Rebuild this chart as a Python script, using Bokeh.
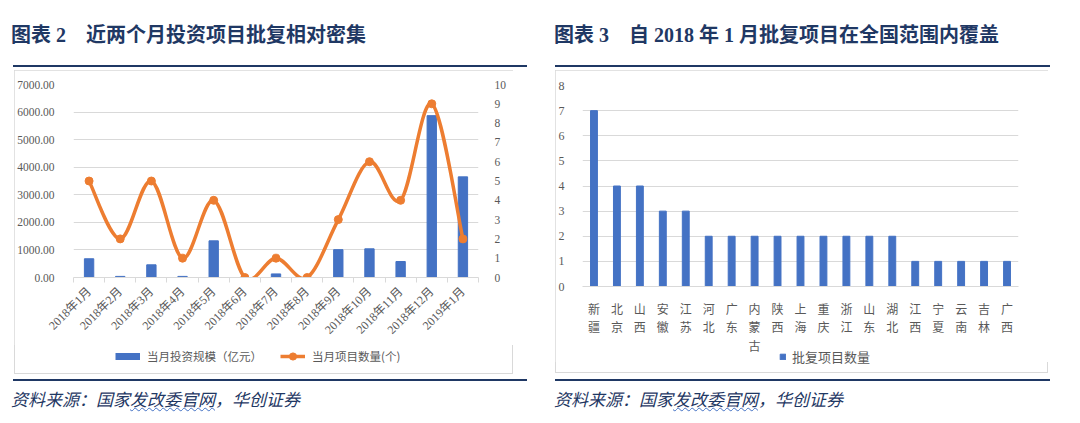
import math
from bokeh.plotting import figure
from bokeh.models import (Range1d, LinearAxis, FixedTicker, PrintfTickFormatter,
                          Legend, LegendItem, Div, FactorRange)
from bokeh.layouts import row, column
from bokeh.embed import file_html
from bokeh.resources import INLINE

# ---------------- data ----------------
months = ["2018年1月", "2018年2月", "2018年3月", "2018年4月", "2018年5月", "2018年6月",
          "2018年7月", "2018年8月", "2018年9月", "2018年10月", "2018年11月", "2018年12月",
          "2019年1月"]
invest = [680, 40, 460, 40, 1330, 0, 130, 0, 1010, 1040, 580, 5870, 3650]
counts = [5, 2, 5, 1, 4, 0, 1, 0, 3, 6, 4, 9, 2]
invest_ticks = [0, 1000, 2000, 3000, 4000, 5000, 6000, 7000]
count_ticks = [0, 1, 2, 3, 4, 5, 6, 7, 8, 9, 10]

provinces = ["新疆", "北京", "山西", "安徽", "江苏", "河北", "广东", "内蒙古", "陕西", "上海",
             "重庆", "浙江", "山东", "湖北", "江西", "宁夏", "云南", "吉林", "广西"]
approved = [7, 4, 4, 3, 3, 2, 2, 2, 2, 2, 2, 2, 2, 2, 1, 1, 1, 1, 1]
approved_ticks = [0, 1, 2, 3, 4, 5, 6, 7, 8]

title_left = "图表 2　近两个月投资项目批复相对密集"
title_right = "图表 3　自 2018 年 1 月批复项目在全国范围内覆盖"
legend_bar = "当月投资规模（亿元）"
legend_line = "当月项目数量(个)"
legend_right = "批复项目数量"

# ---------------- style ----------------
NAVY = "#1F3864"
BLUE = "#4472C4"
ORANGE = "#ED7D31"
GRID = "#D9D9D9"
TXT = "#595959"
SERIF = "Liberation Serif, Noto Sans CJK SC"
CJK = "Noto Sans CJK SC"
BOX = {"outline": f"1px solid {GRID}", "outline-offset": "-1px"}


def title_div(text, width, ml):
    html = (f'<div style="font-family:\'Liberation Serif\',\'Noto Sans CJK SC\';font-weight:bold;'
            f'font-size:20px;color:{NAVY};line-height:26px;padding-top:22px;white-space:nowrap">{text}</div>')
    return Div(text=html, width=width, height=65, margin=(0, 0, 0, ml))


def rule_div(width, ml, mt):
    return Div(text="", width=width, height=2, margin=(mt, 0, 0, ml),
               styles={"background-color": NAVY})


def source_div(width, ml):
    html = (f'<div style="font-family:\'Noto Sans CJK SC\';font-style:italic;font-size:17px;'
            f'color:{NAVY};line-height:22px;padding-top:7px;white-space:nowrap">资料来源：国家'
            f'<span style="text-decoration-line:underline;text-decoration-style:wavy;'
            f'text-decoration-color:{BLUE};text-decoration-thickness:1px">发改委官网</span>，华创证券</div>')
    return Div(text=html, width=width, height=30, margin=(0, 0, 0, ml))


def legend_fig(width, height, margin=(0, 0, 0, 0)):
    f = figure(width=width, height=height, x_range=Range1d(0, 1), y_range=Range1d(0, 1),
               x_axis_type=None, y_axis_type=None, output_backend="svg",
               toolbar_location=None, title=None, min_border=0, margin=margin)
    f.outline_line_color = None
    f.background_fill_alpha = 0
    f.border_fill_alpha = 0
    return f


# ---------------- left chart ----------------
n = len(months)
xs = list(range(n))
p1 = figure(width=499, height=275, x_range=Range1d(-0.5, n - 0.5), y_range=Range1d(0, 7000),
            output_backend="svg", toolbar_location=None, title=None,
            min_border_left=58, min_border_right=35, min_border_top=14, min_border_bottom=68)
p1.outline_line_color = None
p1.extra_y_ranges = {"cnt": Range1d(0, 10)}

bars = p1.vbar(x=xs, top=invest, width=0.3, color=BLUE)

# smooth line (Catmull-Rom as cubic Bezier segments, like Excel's smoothed line)
bx0, by0, bx1, by1, cx0, cy0, cx1, cy1 = [], [], [], [], [], [], [], []
for i in range(n - 1):
    a = i - 1 if i > 0 else i
    d = i + 2 if i + 2 < n else i + 1
    bx0.append(xs[i]); by0.append(counts[i])
    bx1.append(xs[i + 1]); by1.append(counts[i + 1])
    cx0.append(xs[i] + (xs[i + 1] - xs[a]) / 6); cy0.append(counts[i] + (counts[i + 1] - counts[a]) / 6)
    cx1.append(xs[i + 1] - (xs[d] - xs[i]) / 6); cy1.append(counts[i + 1] - (counts[d] - counts[i]) / 6)
curve = p1.bezier(x0=bx0, y0=by0, x1=bx1, y1=by1, cx0=cx0, cy0=cy0, cx1=cx1, cy1=cy1,
                  line_color=ORANGE, line_width=3.5, y_range_name="cnt")
dots = p1.scatter(x=xs, y=counts, size=8, fill_color=ORANGE, line_color=ORANGE, y_range_name="cnt")

p1.xgrid.visible = False
p1.ygrid.grid_line_color = GRID
p1.ygrid.ticker = FixedTicker(ticks=invest_ticks)

ya = p1.yaxis[0]
ya.ticker = FixedTicker(ticks=invest_ticks)
ya.formatter = PrintfTickFormatter(format="%.2f")
ya.axis_line_color = None
ya.major_tick_line_color = None
ya.minor_tick_line_color = None
ya.major_label_standoff = 13
ya.major_label_text_font = SERIF
ya.major_label_text_font_size = "11.5px"
ya.major_label_text_color = TXT

ra = LinearAxis(y_range_name="cnt", ticker=FixedTicker(ticks=count_ticks))
ra.axis_line_color = None
ra.major_tick_line_color = None
ra.minor_tick_line_color = None
ra.major_label_standoff = 10
ra.major_label_text_font = SERIF
ra.major_label_text_font_size = "11.5px"
ra.major_label_text_color = TXT
p1.add_layout(ra, "right")

xa = p1.xaxis[0]
xa.ticker = FixedTicker(ticks=xs, minor_ticks=[i - 0.5 for i in range(n + 1)])
xa.major_label_overrides = {i: m for i, m in enumerate(months)}
xa.axis_line_color = GRID
xa.major_tick_line_color = None
xa.minor_tick_line_color = GRID
xa.minor_tick_out = 5
xa.minor_tick_in = 0
xa.major_label_orientation = math.pi / 4
xa.major_label_standoff = 6
xa.major_label_text_font = SERIF
xa.major_label_text_font_size = "12px"
xa.major_label_text_color = TXT

# legend strip below the left chart
l1 = legend_fig(499, 29)
sw_bar = l1.line(x=xs, y=invest, line_width=7, line_color=BLUE, visible=False)
sw_line = l1.line(x=xs, y=counts, line_width=3.5, line_color=ORANGE, visible=False)
sw_dot = l1.scatter(x=xs, y=counts, size=8, fill_color=ORANGE, line_color=ORANGE, visible=False)
leg1 = Legend(items=[LegendItem(label=legend_bar, renderers=[sw_bar]),
                     LegendItem(label=legend_line, renderers=[sw_line, sw_dot])],
              location=(42, 9), orientation="horizontal", padding=0, margin=0,
              border_line_color=None, background_fill_alpha=0, label_text_font=CJK,
              label_text_color=TXT, label_height=14, glyph_width=25, glyph_height=18,
              label_standoff=7, spacing=18, label_text_font_size="11.5px")
l1.add_layout(leg1)

# ---------------- right chart ----------------
factors = ["\n".join(list(pv)) for pv in provinces]
p2 = figure(width=493, height=292, x_range=FactorRange(*factors), y_range=Range1d(0, 8),
            output_backend="svg", toolbar_location=None, title=None,
            min_border_left=24, min_border_right=30, min_border_top=15, min_border_bottom=76)
p2.outline_line_color = None
rb = p2.vbar(x=factors, top=approved, width=0.3, color=BLUE)
p2.xgrid.visible = False
p2.ygrid.grid_line_color = GRID
p2.ygrid.ticker = FixedTicker(ticks=approved_ticks)

ya2 = p2.yaxis[0]
ya2.ticker = FixedTicker(ticks=approved_ticks)
ya2.axis_line_color = None
ya2.major_tick_line_color = None
ya2.minor_tick_line_color = None
ya2.major_label_standoff = 12
ya2.major_label_text_font = SERIF
ya2.major_label_text_font_size = "12px"
ya2.major_label_text_color = TXT

xa2 = p2.xaxis[0]
xa2.axis_line_color = GRID
xa2.major_tick_line_color = None
xa2.minor_tick_line_color = None
xa2.major_label_orientation = "horizontal"
xa2.major_label_standoff = 7
xa2.major_label_text_font = CJK
xa2.major_label_text_font_size = "12px"
xa2.major_label_text_color = TXT
xa2.major_label_text_line_height = 1.11

# transparent legend strip, pulled up so it sits just under the labels
l2 = legend_fig(493, 27, margin=(-16, 0, 0, 0))
sw_rb = l2.vbar(x=list(range(len(approved))), top=approved, width=0.3, color=BLUE, visible=False)
leg3 = Legend(items=[LegendItem(label=legend_right, renderers=[sw_rb])], location=(197, 7),
              orientation="horizontal", padding=0, margin=0, border_line_color=None,
              background_fill_alpha=0, label_text_font=CJK, label_text_color=TXT,
              label_height=14, glyph_width=7, glyph_height=7, label_standoff=6,
              label_text_font_size="13px")
l2.add_layout(leg3)

# ---------------- page ----------------
box1 = column(p1, l1, margin=(3, 0, 0, 14), styles=BOX)
box2 = column(p2, l2, margin=(3, 0, 0, 15), styles=BOX)
left = column(title_div(title_left, 529, 11), rule_div(514, 13, 0), box1, rule_div(514, 13, 5),
              source_div(529, 11))
right = column(title_div(title_right, 500, 14), rule_div(495, 15, 0), box2, rule_div(495, 15, 6),
               source_div(500, 14))
page = row(left, right)

open("out.html", "w").write(file_html(page, INLINE))
